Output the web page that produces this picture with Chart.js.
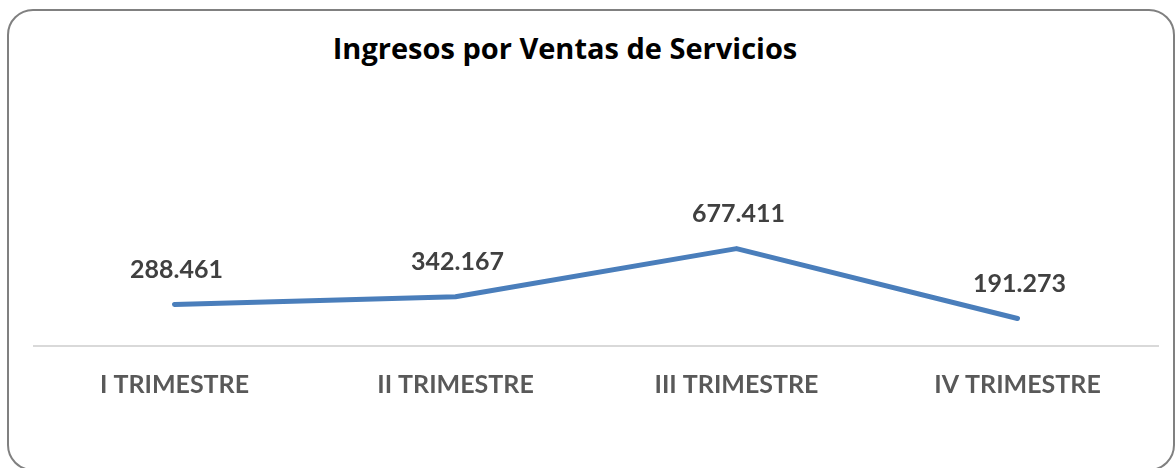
<!DOCTYPE html>
<html>
<head>
<meta charset="utf-8">
<script src="https://cdn.jsdelivr.net/npm/chart.js@4.4.0/dist/chart.umd.min.js"></script>
<style>
  html, body { margin: 0; padding: 0; background: #fff; overflow: hidden; }
  #wrap { position: relative; width: 1175px; height: 468px; }
  #box {
    position: absolute; left: 7px; top: 9px; width: 1168px; height: 462px;
    border: 2px solid #808080; border-radius: 26px; box-sizing: border-box;
  }
  #title {
    position: absolute; left: 0; top: 28px; width: 1130px; text-align: center;
    font-family: "Open Sans", sans-serif; font-weight: bold; font-size: 29px; color: #000;
  }
  canvas { position: absolute; left: 0; top: 0; }
</style>
</head>
<body>
<div id="wrap">
  <div id="box"></div>
  <div id="title">Ingresos por Ventas de Servicios</div>
  <canvas id="chart" width="1175" height="468"></canvas>
</div>
<script>
const quarters = ['I TRIMESTRE', 'II TRIMESTRE', 'III TRIMESTRE', 'IV TRIMESTRE'];
const ingresos = [288461, 342167, 677411, 191273];
const yMin = 0;
const yMax = 800000;

// draws the value above each point (no datalabels plugin offline)
const valueLabels = {
  id: 'valueLabels',
  afterDatasetsDraw(chart) {
    const ctx = chart.ctx;
    const meta = chart.getDatasetMeta(0);
    ctx.save();
    ctx.font = 'bold 25px Lato, sans-serif';
    ctx.fillStyle = '#404040';
    ctx.textAlign = 'center';
    ctx.textBaseline = 'middle';
    meta.data.forEach((pt, i) => {
      const txt = ingresos[i].toLocaleString('de-DE');
      ctx.fillText(txt, pt.x + 2, pt.y - 35);
    });
    ctx.restore();
  }
};

const ctx = document.getElementById('chart').getContext('2d');
const myChart = new Chart(ctx, {
  type: 'line',
  data: {
    labels: quarters,
    datasets: [{
      label: 'Ingresos',
      data: ingresos,
      borderColor: '#4a7ebb',
      borderWidth: 5,
      borderCapStyle: 'round',
      borderJoinStyle: 'round',
      pointRadius: 0,
      fill: false,
      tension: 0
    }]
  },
  options: {
    responsive: false,
    animation: false,
    layout: {
      padding: { left: 34, right: 17, top: 231, bottom: 44 }
    },
    plugins: {
      legend: { display: false },
      tooltip: { enabled: false }
    },
    scales: {
      x: {
        offset: true,
        grid: { display: false, drawTicks: false },
        border: { display: true, color: '#d9d9d9', width: 2 },
        ticks: {
          color: '#595959',
          padding: 24,
          maxRotation: 0,
          font: { family: 'Lato, sans-serif', weight: 'bold', size: 25 }
        }
      },
      y: {
        display: false,
        min: yMin,
        max: yMax
      }
    }
  },
  plugins: [valueLabels]
});
</script>
</body>
</html>
